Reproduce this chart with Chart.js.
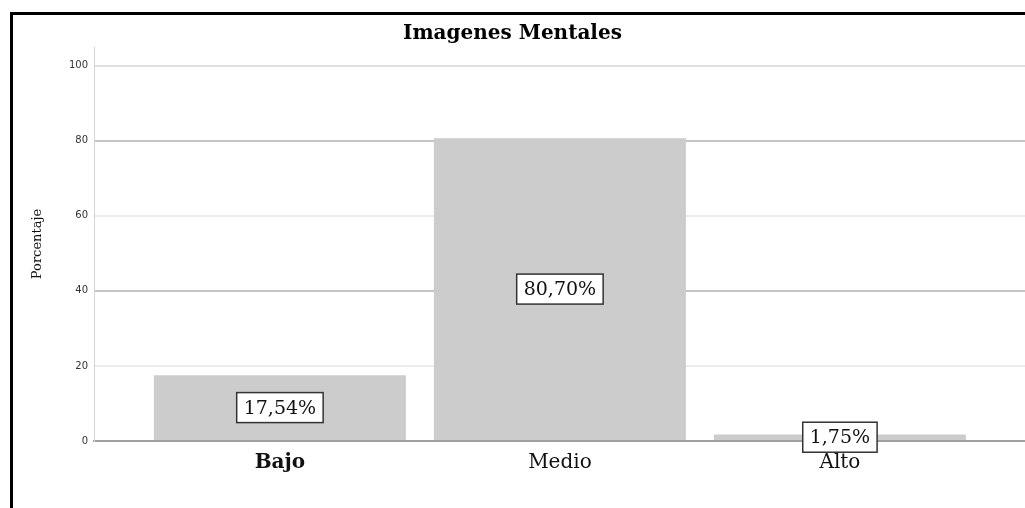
<!DOCTYPE html>
<html>
<head>
<meta charset="utf-8">
<script src="https://cdn.jsdelivr.net/npm/chart.js@4.4.1/dist/chart.umd.min.js"></script>
<style>
  html, body { margin: 0; padding: 0; background: #fff; overflow: hidden; }
  .wrap { position: relative; width: 1025px; height: 508px; }
  .frame {
    position: absolute; left: 10px; top: 12px; right: -20px; bottom: -20px;
    border-left: 3px solid #000; border-top: 3px solid #000;
    pointer-events: none;
  }
</style>
</head>
<body>
<div class="wrap">
  <canvas id="grafico" width="1025" height="508"></canvas>
  <div class="frame"></div>
</div>
<script>
// datos
const categorias = ['Bajo', 'Medio', 'Alto'];
const porcentajes = [17.54, 80.70, 1.75];
const ticksY = [0, 20, 40, 60, 80, 100];

const serif = '"DejaVu Serif", "Liberation Serif", serif';

// etiquetas en caja dentro de cada barra
const etiquetasCaja = {
  id: 'etiquetasCaja',
  afterDatasetsDraw(chart) {
    const ctx = chart.ctx;
    const meta = chart.getDatasetMeta(0);
    ctx.save();
    ctx.font = '19px ' + serif;
    ctx.textAlign = 'center';
    ctx.textBaseline = 'middle';
    meta.data.forEach((bar, i) => {
      const txt = porcentajes[i].toFixed(2).replace('.', ',') + '%';
      const w = ctx.measureText(txt).width + 14;
      const h = 30;
      const cx = bar.x;
      const cy = (bar.y + bar.base) / 2;
      ctx.fillStyle = '#fff';
      ctx.fillRect(cx - w / 2, cy - h / 2, w, h);
      ctx.strokeStyle = '#333';
      ctx.lineWidth = 1.5;
      ctx.strokeRect(cx - w / 2, cy - h / 2, w, h);
      ctx.fillStyle = '#111';
      ctx.fillText(txt, cx, cy + 1);
    });
    ctx.restore();
  }
};

new Chart(document.getElementById('grafico'), {
  type: 'bar',
  data: {
    datasets: [{
      data: porcentajes.map((v, i) => ({ x: i, y: v })),
      backgroundColor: '#cccccc',
      borderWidth: 0,
      barPercentage: 1,
      categoryPercentage: 0.9
    }]
  },
  options: {
    responsive: false,
    animation: false,
    layout: { padding: 0 },
    plugins: {
      legend: { display: false },
      tooltip: { enabled: false },
      title: {
        display: true,
        text: 'Imagenes Mentales',
        color: '#000',
        font: { family: serif, size: 20, weight: 'bold', lineHeight: 1.2 },
        padding: { top: 22, bottom: 1 }
      }
    },
    scales: {
      x: {
        type: 'linear',
        min: -0.664,
        max: 2.661,
        offset: false,
        grid: { display: false, offset: false },
        border: { display: true, color: '#a0a0a0', width: 2 },
        afterFit(scale) { scale.height = 67; },
        ticks: {
          stepSize: 1,
          includeBounds: false,
          autoSkip: false,
          maxRotation: 0,
          padding: 2,
          color: '#111',
          font: (c) => ({ family: serif, size: 20, weight: c.tick && c.tick.value === 0 ? 'bold' : 'normal' }),
          callback: (v) => (Number.isInteger(v) && categorias[v] !== undefined ? categorias[v] : '')
        }
      },
      y: {
        min: 0,
        max: 105,
        afterFit(scale) { scale.width = 94; },
        afterBuildTicks(scale) { scale.ticks = ticksY.map(v => ({ value: v })); },
        border: { display: true, color: '#d4d4d4', width: 1 },
        grid: {
          drawTicks: false,
          lineWidth: 2,
          color: (c) => {
            const v = c.tick ? c.tick.value : 0;
            if (v === 0) return 'rgba(0,0,0,0)';
            if (v === 100) return '#e0e0e0';
            return v % 40 === 0 ? '#c4c4c4' : '#ececec';
          }
        },
        ticks: {
          padding: 6,
          color: '#333',
          font: { family: '"DejaVu Sans", sans-serif', size: 10 }
        },
        title: {
          display: true,
          text: 'Porcentaje',
          color: '#111',
          font: { family: serif, size: 13 },
          padding: { top: 30, bottom: 0 }
        }
      }
    }
  },
  plugins: [etiquetasCaja]
});
</script>
</body>
</html>
